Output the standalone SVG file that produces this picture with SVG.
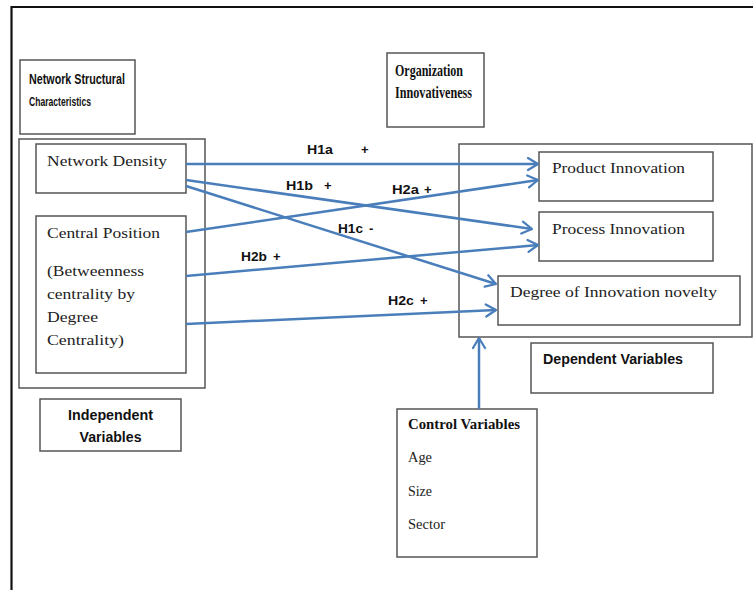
<svg xmlns="http://www.w3.org/2000/svg" width="753" height="590" viewBox="0 0 753 590">
<defs>
<style>
.box{fill:#fff;stroke:#555;stroke-width:1.5}
.frame{fill:none;stroke:#111;stroke-width:2.2}
.sansb{font-family:"Liberation Sans",Arial,sans-serif;font-weight:bold;fill:#111}
.serif{font-family:"Liberation Serif","Times New Roman",serif;fill:#222}
.serifb{font-family:"Liberation Serif","Times New Roman",serif;font-weight:bold;fill:#111}
.lab{font-family:"Liberation Sans",Arial,sans-serif;font-weight:bold;font-size:13px;fill:#111}
.arr{fill:none;stroke:#4a7ebb;stroke-width:2.5;marker-end:url(#ah)}
</style>
<marker id="ah" viewBox="0 0 12 12" refX="10" refY="6" markerWidth="6" markerHeight="6" orient="auto" markerUnits="strokeWidth">
<polyline points="2,1.2 10,6 2,10.8" fill="none" stroke="#4a7ebb" stroke-width="1.8" stroke-linecap="round" stroke-linejoin="round"/>
</marker>
</defs>
<rect width="753" height="590" fill="#fff"/>
<path class="frame" d="M11.5,600 V7 H760"/>

<g id="network-structural">
<rect class="box" x="20" y="60" width="115" height="74"/>
<text class="sansb" x="29" y="84" font-size="15" textLength="96" lengthAdjust="spacingAndGlyphs">Network Structural</text>
<text class="sansb" x="29" y="106" font-size="13" textLength="62" lengthAdjust="spacingAndGlyphs">Characteristics</text>
</g>

<g id="organization-innovativeness">
<rect class="box" x="387" y="53" width="97" height="74"/>
<text class="serifb" x="395" y="76" font-size="16.5" textLength="68" lengthAdjust="spacingAndGlyphs">Organization</text>
<text class="serifb" x="395" y="98" font-size="16.5" textLength="77" lengthAdjust="spacingAndGlyphs">Innovativeness</text>
</g>

<g id="independent-group">
<rect class="box" x="19" y="139" width="186" height="249"/>
</g>

<g id="network-density">
<rect class="box" x="36" y="144" width="150" height="49"/>
<text class="serif" x="47" y="166" font-size="15.5" textLength="120" lengthAdjust="spacingAndGlyphs">Network Density</text>
</g>

<g id="central-position">
<rect class="box" x="36" y="216" width="150" height="157"/>
<text class="serif" x="47" y="238" font-size="15.5" textLength="113" lengthAdjust="spacingAndGlyphs">Central Position</text>
<text class="serif" x="47" y="276" font-size="15.5" textLength="97" lengthAdjust="spacingAndGlyphs">(Betweenness</text>
<text class="serif" x="47" y="299" font-size="15.5" textLength="88" lengthAdjust="spacingAndGlyphs">centrality by</text>
<text class="serif" x="47" y="322" font-size="15.5" textLength="51" lengthAdjust="spacingAndGlyphs">Degree</text>
<text class="serif" x="47" y="345" font-size="15.5" textLength="77" lengthAdjust="spacingAndGlyphs">Centrality)</text>
</g>

<g id="independent-variables">
<rect class="box" x="40" y="399" width="141" height="52"/>
<text class="sansb" x="110.5" y="420" font-size="14" text-anchor="middle" textLength="85" lengthAdjust="spacingAndGlyphs">Independent</text>
<text class="sansb" x="110.5" y="442" font-size="14" text-anchor="middle" textLength="62" lengthAdjust="spacingAndGlyphs">Variables</text>
</g>

<g id="dependent-group">
<rect class="box" x="459" y="144" width="293" height="193"/>
</g>

<g id="product-innovation">
<rect class="box" x="539" y="152" width="174" height="49"/>
<text class="serif" x="552" y="173" font-size="15.5" textLength="133" lengthAdjust="spacingAndGlyphs">Product Innovation</text>
</g>

<g id="process-innovation">
<rect class="box" x="539" y="212" width="174" height="49"/>
<text class="serif" x="552" y="234" font-size="15.5" textLength="133" lengthAdjust="spacingAndGlyphs">Process Innovation</text>
</g>

<g id="innovation-novelty">
<rect class="box" x="498" y="276" width="242" height="49"/>
<text class="serif" x="510" y="297" font-size="15.5" textLength="207" lengthAdjust="spacingAndGlyphs">Degree of Innovation novelty</text>
</g>

<g id="dependent-variables">
<rect class="box" x="531" y="343" width="182" height="50"/>
<text class="sansb" x="543" y="364" font-size="14" textLength="140" lengthAdjust="spacingAndGlyphs">Dependent Variables</text>
</g>

<g id="control-variables">
<rect class="box" x="397" y="409" width="140" height="148"/>
<text class="serifb" x="408" y="429" font-size="14" textLength="112" lengthAdjust="spacingAndGlyphs">Control Variables</text>
<text class="serif" x="408" y="462" font-size="14" textLength="24" lengthAdjust="spacingAndGlyphs">Age</text>
<text class="serif" x="408" y="496" font-size="14" textLength="24" lengthAdjust="spacingAndGlyphs">Size</text>
<text class="serif" x="408" y="529" font-size="14" textLength="37" lengthAdjust="spacingAndGlyphs">Sector</text>
</g>

<g id="connectors">
<line class="arr" x1="186" y1="164" x2="538" y2="164"/>
<line class="arr" x1="186" y1="232" x2="538" y2="180"/>
<line class="arr" x1="186" y1="180" x2="532" y2="229"/>
<line class="arr" x1="186" y1="186" x2="496" y2="284"/>
<line class="arr" x1="186" y1="276" x2="538" y2="245"/>
<line class="arr" x1="186" y1="324" x2="496" y2="310"/>
<line class="arr" x1="479" y1="409" x2="479" y2="338"/>
<text class="lab" x="307" y="154" textLength="26" lengthAdjust="spacingAndGlyphs">H1a</text>
<text class="lab" x="361" y="154">+</text>
<text class="lab" x="286" y="190" textLength="27" lengthAdjust="spacingAndGlyphs">H1b</text>
<text class="lab" x="324" y="190">+</text>
<text class="lab" x="392" y="194" textLength="27" lengthAdjust="spacingAndGlyphs">H2a</text>
<text class="lab" x="424" y="194">+</text>
<text class="lab" x="338" y="233" textLength="25" lengthAdjust="spacingAndGlyphs">H1c</text>
<text class="lab" x="369" y="233">-</text>
<text class="lab" x="241" y="261" textLength="26" lengthAdjust="spacingAndGlyphs">H2b</text>
<text class="lab" x="273" y="261">+</text>
<text class="lab" x="388" y="305" textLength="26" lengthAdjust="spacingAndGlyphs">H2c</text>
<text class="lab" x="420" y="305">+</text>
</g>
</svg>
